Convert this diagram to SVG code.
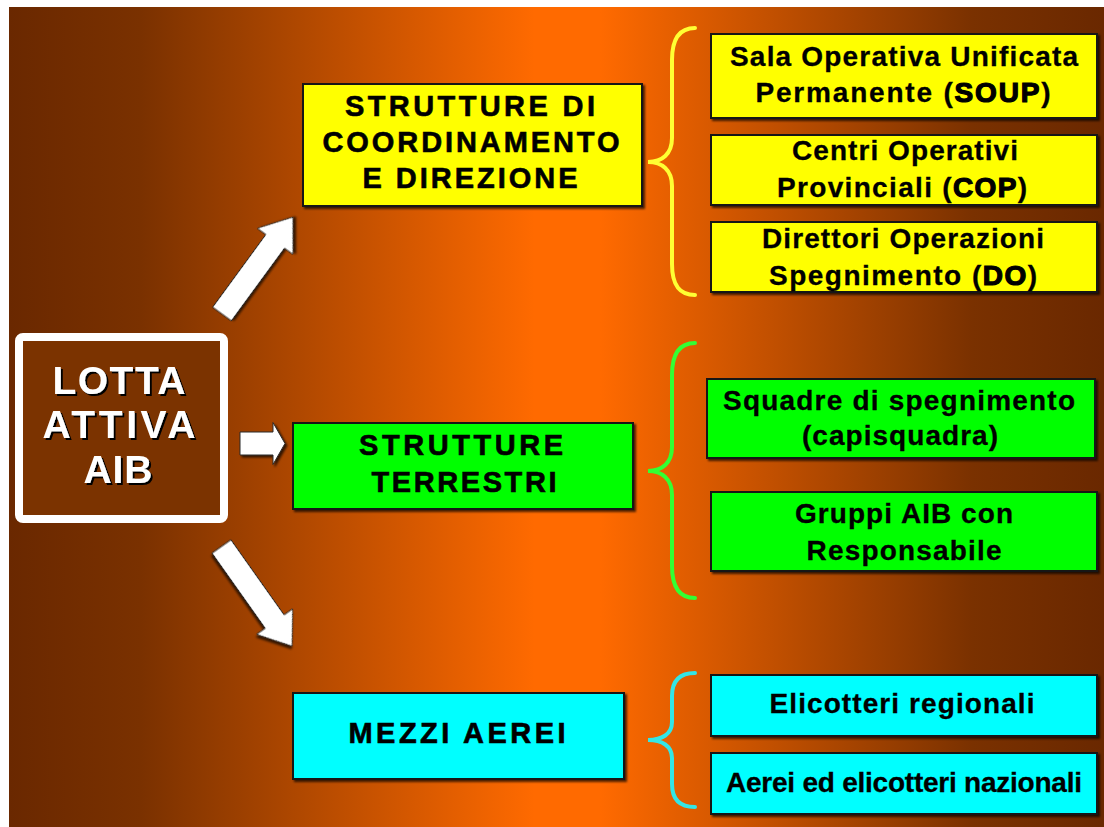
<svg xmlns="http://www.w3.org/2000/svg" width="1104" height="827" viewBox="0 0 1104 827">
<defs>
<linearGradient id="bg" x1="9" y1="0" x2="1104" y2="0" gradientUnits="userSpaceOnUse">
<stop offset="0" stop-color="#6a2800"/>
<stop offset="0.12" stop-color="#7a3100"/>
<stop offset="0.48" stop-color="#ff6a00"/>
<stop offset="0.54" stop-color="#ff6a00"/>
<stop offset="0.88" stop-color="#7a3100"/>
<stop offset="1" stop-color="#6a2800"/>
</linearGradient>
<filter id="sh" x="-10%" y="-10%" width="130%" height="130%">
<feDropShadow dx="2" dy="2" stdDeviation="1.2" flood-color="#000" flood-opacity="0.7"/>
</filter>
<filter id="tsh" x="-10%" y="-10%" width="130%" height="130%">
<feDropShadow dx="2" dy="2" stdDeviation="0.3" flood-color="#000" flood-opacity="1"/>
</filter>
</defs>
<style>
.box{stroke:#151515;stroke-width:2;filter:url(#sh)}
.y{fill:#ffff00}.g{fill:#00ff00}.c{fill:#00ffff}
.t{font-family:"Liberation Sans",Arial,sans-serif;font-weight:bold;fill:#000;text-anchor:middle}
.big{font-size:29px;stroke:#000;stroke-width:0.6}
.sub{font-size:28px;stroke:#000;stroke-width:0.3}
.hb{stroke:#000;stroke-width:1.2}
.w{font-family:"Liberation Sans",Arial,sans-serif;font-weight:bold;font-size:39px;fill:#fff;text-anchor:middle;filter:url(#tsh)}
.arr{fill:#fff;stroke:#2a2a2a;stroke-width:1;filter:url(#sh)}
.br{fill:none;stroke-width:4;stroke-linecap:round}
</style>
<rect x="0" y="0" width="1104" height="827" fill="#fff"/>
<rect x="9" y="7" width="1095" height="820" fill="url(#bg)"/>

<g id="lotta">
<rect x="19" y="337" width="205" height="182" rx="4" fill="#7b3300" stroke="#fff" stroke-width="8"/>
<text class="w" x="119" y="394" textLength="133" lengthAdjust="spacing">LOTTA</text>
<text class="w" x="119" y="438" textLength="153" lengthAdjust="spacing">ATTIVA</text>
<text class="w" x="118" y="483" textLength="69" lengthAdjust="spacing">AIB</text>
</g>

<g id="coordinamento">
<rect class="box y" x="303" y="84" width="339" height="122"/>
<text class="t big" x="470" y="116" textLength="250" lengthAdjust="spacing">STRUTTURE DI</text>
<text class="t big" x="471" y="152" textLength="297" lengthAdjust="spacing">COORDINAMENTO</text>
<text class="t big" x="470" y="188" textLength="215" lengthAdjust="spacing">E DIREZIONE</text>
</g>

<g id="terrestri">
<rect class="box g" x="293" y="423" width="340" height="86"/>
<text class="t big" x="461" y="455" textLength="204" lengthAdjust="spacing">STRUTTURE</text>
<text class="t big" x="464" y="492" textLength="185" lengthAdjust="spacing">TERRESTRI</text>
</g>

<g id="aerei">
<rect class="box c" x="293" y="693" width="331" height="86"/>
<text class="t big" x="457" y="743" textLength="217" lengthAdjust="spacing">MEZZI AEREI</text>
</g>

<g id="soup">
<rect class="box y" x="711" y="34" width="386" height="84"/>
<text class="t sub" x="904" y="66" textLength="348" lengthAdjust="spacing">Sala Operativa Unificata</text>
<text class="t sub" x="903" y="102" textLength="295" lengthAdjust="spacing">Permanente (<tspan class="hb">SOUP</tspan>)</text>
</g>

<g id="cop">
<rect class="box y" x="711" y="135" width="386" height="70"/>
<text class="t sub" x="905" y="160" textLength="226" lengthAdjust="spacing">Centri Operativi</text>
<text class="t sub" x="902" y="197" textLength="250" lengthAdjust="spacing">Provinciali (<tspan class="hb">COP</tspan>)</text>
</g>

<g id="do">
<rect class="box y" x="711" y="222" width="386" height="70"/>
<text class="t sub" x="903" y="248" textLength="282" lengthAdjust="spacing">Direttori Operazioni</text>
<text class="t sub" x="903" y="285" textLength="268" lengthAdjust="spacing">Spegnimento (<tspan class="hb">DO</tspan>)</text>
</g>

<g id="squadre">
<rect class="box g" x="707" y="379" width="388" height="79"/>
<text class="t sub" x="899" y="410" textLength="352" lengthAdjust="spacing">Squadre di spegnimento</text>
<text class="t sub" x="900" y="445" textLength="196" lengthAdjust="spacing">(capisquadra)</text>
</g>

<g id="gruppi">
<rect class="box g" x="711" y="492" width="386" height="79"/>
<text class="t sub" x="904" y="523" textLength="218" lengthAdjust="spacing">Gruppi AIB con</text>
<text class="t sub" x="904" y="560" textLength="195" lengthAdjust="spacing">Responsabile</text>
</g>

<g id="elicotteri">
<rect class="box c" x="711" y="675" width="386" height="61"/>
<text class="t sub" x="902" y="713" textLength="265" lengthAdjust="spacing">Elicotteri regionali</text>
</g>

<g id="nazionali">
<rect class="box c" x="711" y="753" width="386" height="61"/>
<text class="t sub" x="904" y="792" textLength="356" lengthAdjust="spacing">Aerei ed elicotteri nazionali</text>
</g>

<g id="connectors">
<polygon class="arr" transform="translate(222,314) rotate(-53.8)" points="0,-11.5 90,-11.5 90,-22 120,0 90,22 90,11.5 0,11.5"/>
<polygon class="arr" transform="translate(240,443.5)" points="0,-11.5 33,-11.5 33,-21 45,0 33,21 33,11.5 0,11.5"/>
<polygon class="arr" transform="translate(221.5,546.5) rotate(54.7)" points="0,-11.5 92,-11.5 92,-22 122,0 92,22 92,11.5 0,11.5"/>
<path class="br" stroke="#ffff33" d="M695,28 C680,28 672,38 672,60 L672,138 C672,154 662,162 648,162 C662,162 672,170 672,186 L672,264 C672,286 680,295 695,295"/>
<path class="br" stroke="#33ff33" d="M695,343 C680,343 672,353 672,375 L672,447 C672,463 662,471 648,471 C662,471 672,479 672,495 L672,566 C672,588 680,598 695,598"/>
<path class="br" stroke="#33e6e6" d="M695,673 C680,673 672,680 672,696 L672,722 C672,734 662,740 648,740 C662,740 672,746 672,758 L672,784 C672,800 680,807 695,807"/>
</g>
</svg>
